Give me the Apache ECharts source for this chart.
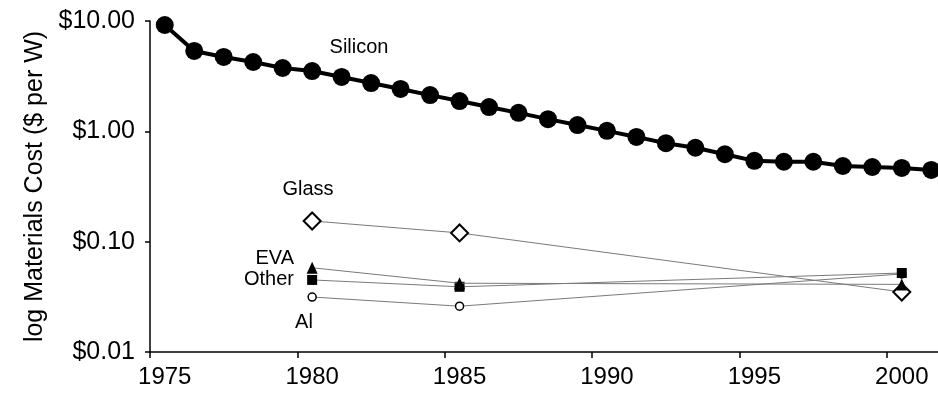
<!DOCTYPE html>
<html>
<head>
<meta charset="utf-8">
<script src="https://cdn.jsdelivr.net/npm/echarts@6/dist/echarts.min.js"></script>
<style>
html,body{margin:0;padding:0;background:#fff;overflow:hidden;width:938px;height:394px;}
#chart{width:946px;height:394px;}
</style>
</head>
<body>
<div id="chart"></div>
<script>
const years = ['1975','1976','1977','1978','1979','1980','1981','1982','1983','1984','1985','1986','1987','1988','1989','1990','1991','1992','1993','1994','1995','1996','1997','1998','1999','2000','2001'];
const siliconCost = [9.2,5.35,4.72,4.25,3.75,3.52,3.11,2.74,2.42,2.13,1.88,1.66,1.47,1.29,1.14,1.01,0.89,0.78,0.71,0.62,0.54,0.53,0.53,0.485,0.475,0.466,0.447];
const otherYears = ['1980','1985','2000'];
const glassCost = [0.154,0.12,0.035];
const evaCost = [0.058,0.042,0.041];
const otherCost = [0.045,0.039,0.052];
const alCost = [0.0315,0.026,0.051];
const yTicks = [0.01,0.1,1,10];

const font = '"Liberation Sans", Arial, Helvetica, sans-serif';
const pairs = (xs, vs) => xs.map((x,i) => [x, vs[i]]);
const thin = {color:'#7a7a7a', width:1};

const chart = echarts.init(document.getElementById('chart'));
chart.setOption({
  animation:false,
  backgroundColor:'#fff',
  grid:{left:150, right:0, top:21, bottom:42, containLabel:false},
  xAxis:{
    type:'category', data:years, boundaryGap:true,
    axisLine:{lineStyle:{color:'#000', width:1.5}},
    axisTick:{show:true, interval:4, length:6, lineStyle:{color:'#000', width:1.5}},
    axisLabel:{interval:4, margin:13, color:'#000', fontSize:24, fontFamily:font},
    splitLine:{show:false}
  },
  yAxis:{
    type:'log', logBase:10, min:yTicks[0], max:yTicks[yTicks.length-1],
    name:'log Materials Cost ($ per W)', nameLocation:'middle', nameGap:102,
    nameTextStyle:{color:'#000', fontSize:25, fontFamily:font},
    axisLine:{show:true, lineStyle:{color:'#000', width:1.5}},
    axisTick:{show:true, length:5, lineStyle:{color:'#000', width:1.5}},
    minorTick:{show:false},
    axisLabel:{margin:15, color:'#000', fontSize:25, fontFamily:font,
      formatter:v => '$' + Number(v).toFixed(2)},
    splitLine:{show:false}
  },
  series:[
    {name:'Glass', type:'line', data:pairs(otherYears, glassCost), lineStyle:thin,
     symbol:'diamond', symbolSize:17, itemStyle:{color:'#fff', borderColor:'#000', borderWidth:2}, z:3},
    {name:'Al', type:'line', data:pairs(otherYears, alCost), lineStyle:thin,
     symbol:'circle', symbolSize:8, itemStyle:{color:'#fff', borderColor:'#000', borderWidth:1.5}, z:3},
    {name:'Other', type:'line', data:pairs(otherYears, otherCost), lineStyle:thin,
     symbol:'rect', symbolSize:10, itemStyle:{color:'#000', borderColor:'#000', borderWidth:0}, z:4},
    {name:'EVA', type:'line', data:pairs(otherYears, evaCost), lineStyle:thin,
     symbol:'triangle', symbolSize:[11,12], itemStyle:{color:'#000', borderColor:'#000', borderWidth:0}, z:5},
    {name:'Silicon', type:'line', data:siliconCost, lineStyle:{color:'#000', width:4},
     symbol:'circle', symbolSize:18, itemStyle:{color:'#000', borderWidth:0}, z:6}
  ],
  graphic:[
    {type:'text', x:359, y:47, style:{text:'Silicon', fill:'#000', font:'20px '+font, textAlign:'center', textVerticalAlign:'middle'}},
    {type:'text', x:308, y:189, style:{text:'Glass', fill:'#000', font:'20px '+font, textAlign:'center', textVerticalAlign:'middle'}},
    {type:'text', x:294, y:258, style:{text:'EVA', fill:'#000', font:'20px '+font, textAlign:'right', textVerticalAlign:'middle'}},
    {type:'text', x:294, y:279, style:{text:'Other', fill:'#000', font:'20px '+font, textAlign:'right', textVerticalAlign:'middle'}},
    {type:'text', x:304, y:322, style:{text:'Al', fill:'#000', font:'20px '+font, textAlign:'center', textVerticalAlign:'middle'}}
  ]
});
</script>
</body>
</html>
